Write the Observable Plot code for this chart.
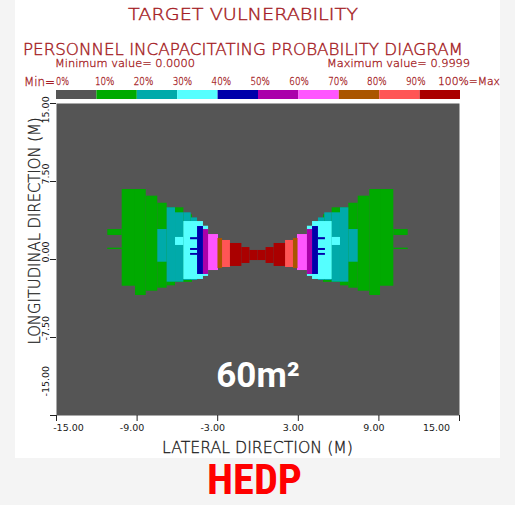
<!DOCTYPE html>
<html>
<head>
<meta charset="utf-8">
<script src="https://cdn.jsdelivr.net/npm/d3@7"></script>
<script src="https://cdn.jsdelivr.net/npm/@observablehq/plot@0.6"></script>
<style>
  html, body { margin: 0; padding: 0; width: 515px; height: 505px; overflow: hidden; background: #f4f4f4; }
  #wrap { position: relative; width: 515px; height: 505px; }
  #panel { position: absolute; left: 15px; top: 0; width: 485px; height: 458px; background: #ffffff; }
  #main, #legend { position: absolute; left: 0; }
  #main { top: 0; }
  #legend { top: 90px; }
  #overlay { position: absolute; left: 0; top: 0; pointer-events: none; }
</style>
</head>
<body>
<div id="wrap">
  <div id="panel"></div>
  <div id="main"></div>
  <div id="legend"></div>
  <svg id="overlay" width="515" height="505"></svg>
</div>
<script>
// ---------- data ----------
const levelLabels = ["0%", "10%", "20%", "30%", "40%", "50%", "60%", "70%", "80%", "90%", "100%=Max"];
const levelColors = ["#555555", "#00aa00", "#00aaaa", "#55ffff", "#0000aa", "#aa00aa", "#ff55ff", "#aa5500", "#ff5555", "#aa0000"];
const xTicks = [-15, -9, -3, 3, 9, 15];
const yTicks = [-15, -7.5, 0, 7.5, 15];
const minValue = 0.0000;
const maxValue = 0.9999;
const areaLabel = "60m²";
const weaponLabel = "HEDP";

// Contour bands, each row: [outer |x| (m), inner |x| (m), top y (m), bottom y (m)], mirrored about x = 0
const band10 = [
  [10.11, 9.12, 6.73, -2.57],
  [9.12, 8.32, 6.73, -3.46],
  [8.32, 7.46, 6.09, -3.05],
  [7.46, 6.76, 5.41, -2.76],
  [6.76, 6.14, 4.97, -2.53],
  [6.14, 5.52, 4.97, -2.21],
  [5.52, 4.88, 4.30, -2.20],
  [11.18, 10.11, 2.88, 2.31],
  [11.18, 10.11, 1.09, 0.96]
];
const band20 = [
  [7.46, 6.76, 2.88, -0.26],
  [6.76, 6.14, 4.97, -2.18],
  [6.14, 5.52, 4.49, -2.18],
  [5.52, 4.97, 4.49, -2.02],
  [4.97, 4.50, 4.00, -2.02]
];
const band30 = [
  [6.14, 5.52, 2.12, 1.35],
  [5.52, 4.06, 3.65, -1.92],
  [4.06, 3.68, 3.20, -1.63]
];
const band40 = [
  [4.50, 4.06, 3.17, -1.44],
  [5.02, 4.50, 2.10, 1.90],
  [5.02, 4.50, 1.06, 0.87],
  [5.02, 4.50, 0.58, 0.40]
];
const band50 = [[4.06, 3.68, 2.88, -1.44]];
const band60 = [[3.68, 2.94, 2.40, -1.06]];
const band70 = [[2.98, 2.64, 2.02, -0.87]];
const band80 = [[2.64, 2.05, 1.83, -0.77]];
const band90 = [
  [2.05, 1.20, 1.54, -0.67],
  [1.20, 0.60, 1.15, -0.38],
  [0.60, 0.00, 0.87, -0.10]
];
const bands = [band10, band20, band30, band40, band50, band60, band70, band80, band90];

// ---------- build table ----------
const cells = bands.flatMap((rows, k) => rows.flatMap(([o, i, t, b]) => [
  {level: k + 1, x1: -o, x2: -i, y1: b, y2: t},
  {level: k + 1, x1: i, x2: o, y1: b, y2: t}
]));
const fmt = d => d.toFixed(2);
const colorScale = {type: "ordinal", domain: d3.range(levelColors.length), range: levelColors};
const tickFont = {fontFamily: "DejaVu Sans", fontSize: 9.5, fill: "#1a1a1a"};

// ---------- main plot ----------
const main = Plot.plot({
  width: 515, height: 460,
  marginLeft: 56, marginRight: 56, marginTop: 103, marginBottom: 45,
  x: {domain: [-15, 15], axis: null},
  y: {domain: [-15, 15], axis: null},
  color: colorScale,
  style: {background: "transparent", overflow: "visible", fontFamily: "DejaVu Sans"},
  marks: [
    Plot.frame({fill: levelColors[0]}),
    Plot.rect(cells, {x1: "x1", x2: "x2", y1: "y1", y2: "y2", fill: "level"}),
    Plot.axisX(xTicks, {anchor: "bottom", tickSize: 6, tickFormat: () => "", label: null, stroke: "#222"}),
    Plot.axisY(yTicks, {anchor: "left", tickSize: 6, tickFormat: () => "", label: null, stroke: "#222"}),
    Plot.text(xTicks.slice(1, -1), {x: d => d, text: fmt, frameAnchor: "bottom", dy: 15, dx: -5, ...tickFont}),
    Plot.text([xTicks[0]], {x: d => d, text: fmt, frameAnchor: "bottom", dy: 15, dx: 12, ...tickFont}),
    Plot.text([xTicks[xTicks.length - 1]], {x: d => d, text: fmt, frameAnchor: "bottom", dy: 15, dx: -23, ...tickFont}),
    Plot.text(yTicks.slice(1, -1), {y: d => d, text: fmt, frameAnchor: "left", dx: -11, dy: 3, rotate: -90, ...tickFont}),
    Plot.text([yTicks[0]], {y: d => d, text: fmt, frameAnchor: "left", dx: -11, dy: -19, rotate: -90, ...tickFont}),
    Plot.text([yTicks[yTicks.length - 1]], {y: d => d, text: fmt, frameAnchor: "left", dx: -11, dy: 20, rotate: -90, ...tickFont}),
    Plot.text([areaLabel], {frameAnchor: "bottom", dy: -29, fill: "#ffffff", fontSize: 35, fontWeight: "bold", fontFamily: "Roboto"})
  ]
});
document.getElementById("main").appendChild(main);

// ---------- colour legend bar ----------
const legend = Plot.plot({
  width: 515, height: 9,
  marginLeft: 56, marginRight: 55, marginTop: 0, marginBottom: 0,
  x: {domain: [0, levelColors.length], axis: null},
  color: colorScale,
  style: {background: "transparent"},
  marks: [
    Plot.barX(d3.range(levelColors.length), {x1: d => d, x2: d => d + 1, fill: d => d, inset: 0})
  ]
});
document.getElementById("legend").appendChild(legend);

// ---------- texts ----------
const svg = d3.select("#overlay");
const red = "#a51d25";
const thin = "DejaVu Sans";
function txt(s, x, y, size, len, opts = {}) {
  const fill = opts.fill || red;
  const t = svg.append("text")
    .attr("x", x).attr("y", y)
    .attr("font-family", opts.family || thin)
    .attr("font-size", size)
    .attr("font-weight", opts.weight || 200)
    .attr("fill", fill)
    .attr("text-anchor", opts.anchor || "start")
    .text(s);
  if (!opts.weight) t.attr("stroke", fill).attr("stroke-width", opts.sw || 0.4);
  if (len) t.attr("textLength", len).attr("lengthAdjust", "spacingAndGlyphs");
  if (opts.transform) t.attr("transform", opts.transform);
  return t;
}
txt("TARGET VULNERABILITY", 128, 20, 16, 230);
txt("PERSONNEL INCAPACITATING PROBABILITY DIAGRAM", 23, 55, 16, 440);
txt("Minimum value= " + minValue.toFixed(4), 55, 67, 10, 140, {sw: 0.3});
txt("Maximum value= " + maxValue.toFixed(4), 327, 67, 10, 143, {sw: 0.3});
txt("Min=", 24, 86, 12, 31, {sw: 0.3});
const labelX = d3.scaleLinear().domain([0, 9]).range([56, 406]);
levelLabels.forEach((s, i) => {
  if (i < levelLabels.length - 1) txt(s, labelX(i), 85, 10, s.length * 6.5, {sw: 0.3});
  else txt(s, 500, 85, 10, 62, {anchor: "end", sw: 0.3});
});
txt("LATERAL DIRECTION (M)", 257.5, 453, 15, 191, {anchor: "middle", fill: "#1a1a1a", sw: 0.3});
txt("LONGITUDINAL DIRECTION (M)", 0, 0, 15, 227, {anchor: "middle", fill: "#1a1a1a", sw: 0.3, transform: "translate(40,231) rotate(-90)"});
txt(weaponLabel, 254.5, 494, 42, 95, {anchor: "middle", fill: "#ff0000", weight: "bold", family: "Liberation Sans Narrow, Roboto Condensed, Liberation Sans"});
</script>
</body>
</html>
